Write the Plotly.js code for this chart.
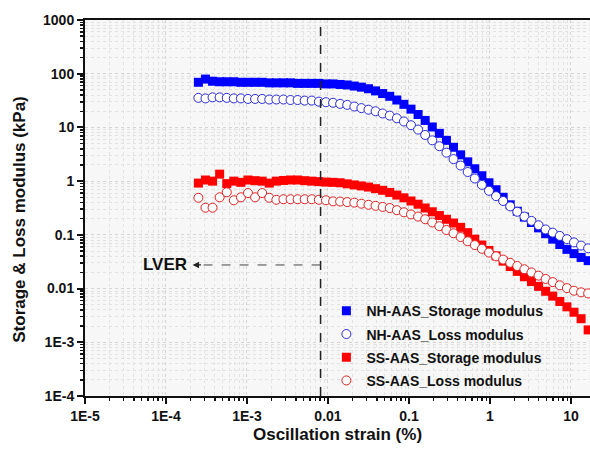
<!DOCTYPE html>
<html>
<head>
<meta charset="utf-8">
<script src="https://cdn.plot.ly/plotly-3.0.1.min.js"></script>
<style>html,body{margin:0;padding:0;background:#fff;}#chart{width:590px;height:455px;}</style>
</head>
<body>
<div id="chart"></div>
<script>
// Oscillation strain (%)
const strain = [2.512e-4, 3.073e-4, 3.758e-4, 4.597e-4, 5.623e-4, 6.879e-4, 8.414e-4, 1.029e-3, 1.259e-3, 1.540e-3,
  1.884e-3, 2.304e-3, 2.818e-3, 3.447e-3, 4.217e-3, 5.158e-3, 6.310e-3, 7.718e-3, 9.441e-3, 0.01155,
  0.01413, 0.01728, 0.02113, 0.02585, 0.03162, 0.03868, 0.04732, 0.05788, 0.07079, 0.08660,
  0.1059, 0.1296, 0.1585, 0.1939, 0.2371, 0.2901, 0.3548, 0.4340, 0.5309, 0.6494,
  0.7943, 0.9716, 1.189, 1.454, 1.778, 2.175, 2.661, 3.255, 3.981, 4.870,
  5.957, 7.286, 8.913, 10.90, 13.34, 16.31];
// moduli (kPa)
const nhStorage = [69.2, 79.4, 72.4, 70.8, 70.8, 70.8, 69.2, 69.2, 69.2, 69.2,
  67.6, 67.6, 67.6, 67.6, 66.1, 66.1, 66.1, 66.1, 64.6, 64.6,
  63.1, 61.7, 58.9, 56.2, 52.5, 47.9, 42.7, 38.0, 32.4, 26.9,
  21.9, 17.4, 13.5, 10.2, 7.76, 5.75, 4.27, 3.09, 2.29, 1.70,
  1.26, 0.933, 0.692, 0.501, 0.363, 0.275, 0.214, 0.170, 0.135, 0.105,
  0.0832, 0.0661, 0.0537, 0.0447, 0.0380, 0.0331];
const nhLoss = [35.5, 34.7, 36.3, 36.3, 35.5, 34.7, 34.7, 33.9, 33.9, 33.9,
  33.1, 33.1, 33.1, 32.4, 32.4, 31.6, 31.6, 30.2, 29.5, 28.8,
  27.5, 26.3, 24.5, 22.9, 21.4, 20.0, 18.2, 16.6, 14.8, 12.9,
  11.0, 9.12, 7.24, 5.75, 4.47, 3.39, 2.57, 1.95, 1.48, 1.12,
  0.851, 0.661, 0.525, 0.427, 0.339, 0.269, 0.219, 0.182, 0.151, 0.126,
  0.110, 0.0955, 0.0832, 0.0724, 0.0631, 0.0562];
const ssStorage = [0.92, 1.05, 1.0, 1.35, 0.9, 1.0, 0.95, 1.05, 1.02, 1.0,
  0.92, 1.0, 1.03, 1.05, 1.05, 1.02, 1.0, 0.98, 0.96, 0.95,
  0.933, 0.891, 0.851, 0.813, 0.776, 0.724, 0.676, 0.617, 0.550, 0.490,
  0.427, 0.372, 0.316, 0.269, 0.229, 0.195, 0.166, 0.138, 0.110, 0.0832,
  0.0646, 0.0513, 0.0407, 0.0324, 0.0257, 0.0209, 0.0166, 0.0135, 0.0110, 0.00891,
  0.00724, 0.00575, 0.00457, 0.00363, 0.00275, 0.00170];
const ssLoss = [0.49, 0.32, 0.32, 0.5, 0.62, 0.44, 0.5, 0.6, 0.5, 0.6,
  0.49, 0.45, 0.46, 0.46, 0.46, 0.46, 0.46, 0.45, 0.44, 0.42,
  0.417, 0.407, 0.398, 0.380, 0.363, 0.347, 0.331, 0.316, 0.288, 0.263,
  0.240, 0.219, 0.195, 0.170, 0.145, 0.123, 0.107, 0.0912, 0.0759, 0.0646,
  0.0550, 0.0468, 0.0398, 0.0347, 0.0302, 0.0263, 0.0229, 0.0200, 0.0174, 0.0151,
  0.0132, 0.0115, 0.0102, 0.00912, 0.00851, 0.00813];

const seriesNames = ['NH-AAS_Storage modulus', 'NH-AAS_Loss modulus', 'SS-AAS_Storage modulus', 'SS-AAS_Loss modulus'];
const xTickVals = [1e-5, 1e-4, 1e-3, 0.01, 0.1, 1, 10];
const xTickText = ['1E-5', '1E-4', '1E-3', '0.01', '0.1', '1', '10'];
const yTickVals = [1e-4, 1e-3, 0.01, 0.1, 1, 10, 100, 1000];
const yTickText = ['1E-4', '1E-3', '0.01', '0.1', '1', '10', '100', '1000'];
const lverStrain = 0.0081;
const lverModulus = 0.0275;
const lverArrowEnd = 2.5e-4;

function minorVals(lo, hi) {
  const out = [];
  for (let e = lo; e < hi; e++) for (let d = 2; d <= 9; d++) out.push(d * Math.pow(10, e));
  return out;
}

const FONT = 'Arial, "Liberation Sans", sans-serif';

const traces = [
  {x: strain, y: nhStorage, name: seriesNames[0], mode: 'markers', legendgroup: 'a',
   marker: {symbol: 'square', size: 9, color: '#0000ff'}},
  {x: strain, y: nhLoss, name: seriesNames[1], mode: 'markers', legendgroup: 'b',
   marker: {symbol: 'circle', size: 9, color: '#ffffff', line: {width: 1, color: '#2a2ad8'}}},
  {x: strain, y: ssStorage, name: seriesNames[2], mode: 'markers', legendgroup: 'c',
   marker: {symbol: 'square', size: 9, color: '#ff0000'}},
  {x: strain, y: ssLoss, name: seriesNames[3], mode: 'markers', legendgroup: 'd',
   marker: {symbol: 'circle', size: 9, color: '#ffffff', line: {width: 1, color: '#e02020'}}}
];

const axisCommon = {
  type: 'log', showline: true, linecolor: '#111', linewidth: 2,
  ticks: 'outside', ticklen: 6, tickwidth: 2, tickcolor: '#111',
  tickmode: 'array', zeroline: false,
  showgrid: true, gridcolor: '#d4d4d4', gridwidth: 1, griddash: 'dot',
  tickfont: {family: FONT, size: 14, color: '#111', weight: 'bold'}
};

const layout = {
  width: 590, height: 455,
  margin: {l: 85, r: 0, t: 20, b: 59},
  paper_bgcolor: '#ffffff', plot_bgcolor: '#f7f7f7',
  showlegend: true,
  legend: {x: 0.478, y: 0.268, xanchor: 'left', yanchor: 'top', bgcolor: 'rgba(0,0,0,0)',
    traceorder: 'grouped', tracegroupgap: 2,
    font: {family: FONT, size: 14, color: '#111', weight: 'bold'}},
  xaxis: Object.assign({}, axisCommon, {
    range: [-5, 1.235], tickvals: xTickVals, ticktext: xTickText, mirror: true,
    minor: {tickvals: minorVals(-5, 2), ticks: 'outside', ticklen: 3, tickwidth: 1.5, tickcolor: '#111',
      showgrid: true, gridcolor: '#e2e2e2', griddash: 'dot'},
    title: {text: 'Oscillation strain (%)', standoff: 5,
      font: {family: FONT, size: 17, color: '#111', weight: 'bold'}}
  }),
  yaxis: Object.assign({}, axisCommon, {
    range: [-4, 3], tickvals: yTickVals, ticktext: yTickText, mirror: false,
    minor: {tickvals: minorVals(-4, 3), ticks: 'outside', ticklen: 3, tickwidth: 1.5, tickcolor: '#111',
      showgrid: true, gridcolor: '#e2e2e2', griddash: 'dot'}
  }),
  shapes: [
    {type: 'line', xref: 'x', yref: 'paper', x0: lverStrain, x1: lverStrain, y0: 0, y1: 1,
     line: {color: '#222', width: 1.5, dash: 'dash'}},
    {type: 'line', xref: 'x', yref: 'y', x0: lverStrain, x1: lverArrowEnd, y0: lverModulus, y1: lverModulus,
     line: {color: '#444', width: 1, dash: 'dash'}}
  ],
  annotations: [
    {x: Math.log10(lverArrowEnd) - 0.07, y: Math.log10(lverModulus), xref: 'x', yref: 'y',
     text: '', showarrow: true, ax: 10, ay: 0, arrowhead: 2, arrowsize: 1, arrowwidth: 1.3, arrowcolor: '#222'},
    {x: Math.log10(lverArrowEnd) - 0.12, y: Math.log10(lverModulus), xref: 'x', yref: 'y',
     xanchor: 'right', yanchor: 'middle', text: 'LVER', showarrow: false,
     font: {family: FONT, size: 17, color: '#111', weight: 'bold'}},
    {x: -0.129, y: 0.471, xref: 'paper', yref: 'paper', xanchor: 'center', yanchor: 'middle',
     textangle: -90, text: 'Storage & Loss modulus (kPa)', showarrow: false,
     font: {family: FONT, size: 17, color: '#111', weight: 'bold'}}
  ]
};

Plotly.newPlot('chart', traces, layout, {displayModeBar: false, staticPlot: true});
</script>
</body>
</html>
